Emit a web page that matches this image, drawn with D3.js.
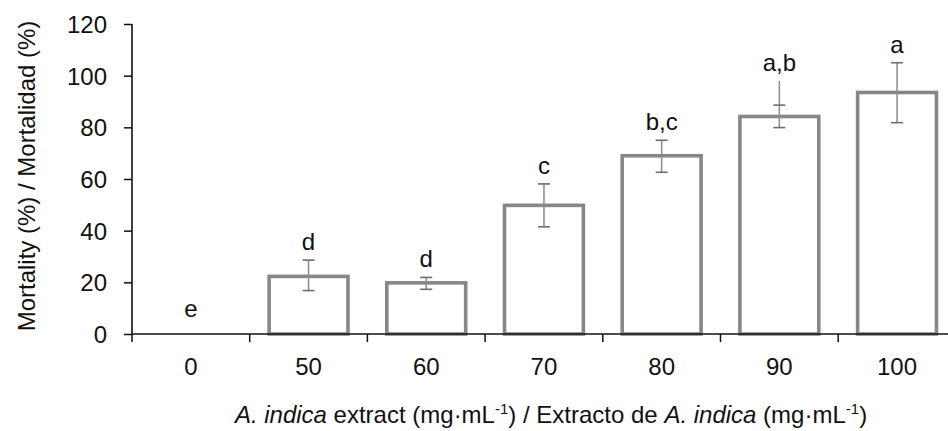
<!DOCTYPE html>
<html><head><meta charset="utf-8">
<script src="https://cdn.jsdelivr.net/npm/d3@7"></script>
<style>html,body{margin:0;padding:0;background:#fff;}svg{display:block;}text{font-family:"Liberation Sans",Arial,sans-serif;fill:#111;}</style>
</head><body>
<svg id="chart" width="948" height="431"></svg>
<script>
const categories = ["0","50","60","70","80","90","100"];
const mortality = [0, 22.3, 19.8, 49.8, 69, 84.2, 93.5];
const errLow = [0, 16.8, 17.3, 41.5, 62.6, 79.9, 81.8];
const errHigh = [0, 28.6, 21.9, 58.1, 75, 98, 105];
const capHigh = [0, 28.6, 21.9, 58.1, 75, 88.6, 105];
const letters = ["e","d","d","c","b,c","a,b","a"];
const yTicks = [0,20,40,60,80,100,120];

const svg = d3.select("#chart");
const mLeft = 132, mBottom = 334, mTop = 24, step = 117.7;
const pad = 0.33;
const FS = 24;
const x = d3.scaleBand().domain(categories).range([mLeft, mLeft + step*categories.length]).paddingInner(pad).paddingOuter(pad/2);
const y = d3.scaleLinear().domain([0,120]).range([mBottom, mTop]);

// bars
svg.append("g").selectAll("rect").data(categories).join("rect")
  .attr("x", d => x(d)).attr("width", x.bandwidth())
  .attr("y", (d,i) => y(mortality[i]))
  .attr("height", (d,i) => y(0) - y(mortality[i]))
  .attr("fill", "#fff").attr("stroke", "#878787").attr("stroke-width", 3.6)
  .style("display", (d,i) => mortality[i] > 0 ? null : "none");

// error bars
const eb = svg.append("g");
categories.forEach((c,i) => {
  if (mortality[i] <= 0) return;
  const cx = x(c) + x.bandwidth()/2;
  eb.append("line").attr("x1",cx).attr("x2",cx).attr("y1",y(errLow[i])).attr("y2",y(errHigh[i]))
    .attr("stroke","#8c8c8c").attr("stroke-width",1.5);
  [errLow[i], capHigh[i]].forEach(v => {
    eb.append("line").attr("x1",cx-6).attr("x2",cx+6).attr("y1",y(v)).attr("y2",y(v))
      .attr("stroke","#6e6e6e").attr("stroke-width",1.6);
  });
});

// letters
svg.append("g").selectAll("text").data(categories).join("text")
  .attr("x", d => x(d) + x.bandwidth()/2)
  .attr("y", (d,i) => { const t = Math.max(errHigh[i], mortality[i]); return y(t) - (t === 0 ? 17 : 10); })
  .attr("text-anchor","middle").attr("font-size", FS)
  .text((d,i) => letters[i]);

// y axis
const yAxis = svg.append("g").attr("transform", `translate(${mLeft},0)`)
  .call(d3.axisLeft(y).tickValues(yTicks).tickSize(8).tickPadding(17));
yAxis.select(".domain").attr("d", `M0,${mTop}V${mBottom}`).attr("stroke","#111").attr("stroke-width",1.6);
yAxis.selectAll(".tick line").attr("stroke","#111").attr("stroke-width",1.5);
yAxis.selectAll(".tick text").attr("font-size",FS).attr("font-family","Liberation Sans, Arial, sans-serif").attr("fill","#111").attr("dy","0.36em");

// x axis
const xAxis = svg.append("g").attr("transform", `translate(0,${mBottom})`);
xAxis.append("line").attr("x1", mLeft).attr("x2", 948).attr("stroke","#111").attr("stroke-width",1.6);
const bounds = categories.map(c => x(c) - x.step()*pad/2).concat([mLeft + step*categories.length]);
xAxis.selectAll("line.tk").data(bounds).join("line").attr("class","tk")
  .attr("x1", d => d).attr("x2", d => d).attr("y1", 0).attr("y2", 8)
  .attr("stroke","#111").attr("stroke-width",1.5);
xAxis.selectAll("text").data(categories).join("text")
  .attr("x", d => x(d) + x.bandwidth()/2).attr("y", 41)
  .attr("text-anchor","middle").attr("font-size",FS).text(d => d);

// y label
svg.append("text").attr("transform","translate(35,176) rotate(-90)")
  .attr("text-anchor","middle").attr("font-size",FS)
  .text("Mortality (%) / Mortalidad (%)");

// x label
const xl = svg.append("text").attr("x", 551).attr("y", 423).attr("text-anchor","middle").attr("font-size",FS);
const parts = [
  {t:"A. indica", i:true}, {t:" extract (mg·mL"}, {t:"-1", s:true}, {t:") / Extracto de "},
  {t:"A. indica", i:true}, {t:" (mg·mL"}, {t:"-1", s:true}, {t:")"}
];
let raised = false;
parts.forEach(p => {
  const ts = xl.append("tspan").text(p.t);
  if (p.i) ts.attr("font-style","italic");
  if (p.s) { ts.attr("font-size",15).attr("dy",-9); raised = true; }
  else if (raised) { ts.attr("dy",9); raised = false; }
});
</script>
</body></html>
